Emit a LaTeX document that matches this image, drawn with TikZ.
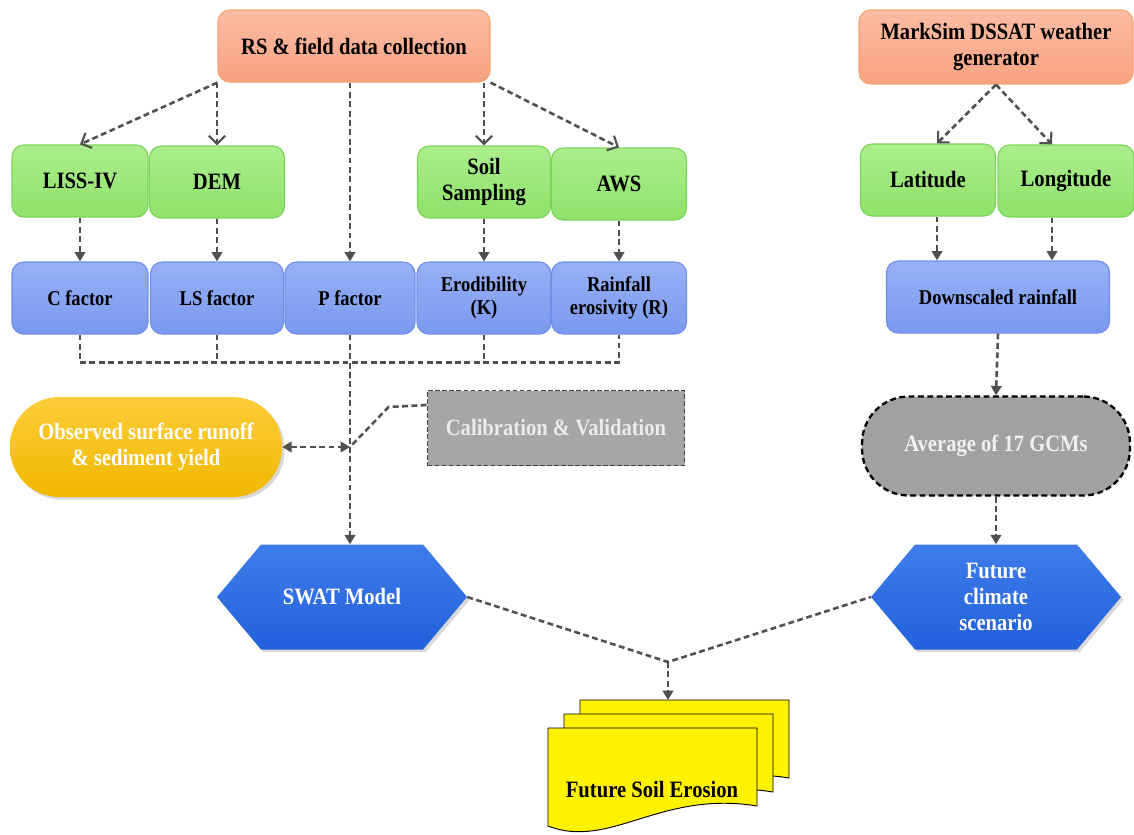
\documentclass[tikz,border=0pt]{standalone}
\usepackage{fontspec}
\setmainfont{Liberation Serif}[FakeStretch=0.88]
\usetikzlibrary{arrows.meta,shapes.symbols,shadows,calc}
\definecolor{orline}{HTML}{F5A370}
\definecolor{ortop}{HTML}{FBBCA3}
\definecolor{orbot}{HTML}{F8A282}
\definecolor{grline}{HTML}{7DD45A}
\definecolor{grtop}{HTML}{ABEE8C}
\definecolor{grbot}{HTML}{8FE16B}
\definecolor{blline}{HTML}{6F8EEA}
\definecolor{bltop}{HTML}{98B1F5}
\definecolor{blbot}{HTML}{7A98EE}
\definecolor{hxtop}{HTML}{3F7CEA}
\definecolor{hxbot}{HTML}{2260DC}
\definecolor{yltop}{HTML}{FDCD3A}
\definecolor{ylbot}{HTML}{F0B800}
\definecolor{arrgray}{HTML}{505050}
\tikzset{
  wd/.style={minimum width=#1*0.03cm},
  ht/.style={minimum height=#1*0.03cm},
  base/.style={font=\bfseries\fontsize{20}{22}\selectfont, align=center, inner sep=2pt},
  srcbox/.style={base, rounded corners=10pt, draw=orline, line width=1pt, top color=ortop, bottom color=orbot},
  inbox/.style={base, rounded corners=10pt, draw=grline, line width=1pt, top color=grtop, bottom color=grbot, ht=72},
  facbox/.style={base, font=\bfseries\fontsize{18}{20}\selectfont, rounded corners=10pt, draw=blline, line width=1pt, top color=bltop, bottom color=blbot, ht=72},
  hexa/.style={base, text=white, shape=signal, signal to=east and west, signal pointer angle=100, top color=hxtop, bottom color=hxbot, wd=250, ht=105, drop shadow={opacity=0.3}},
  arr/.style={draw=arrgray, line width=2.2pt, dash pattern=on 5pt off 3pt, -{Triangle[length=8pt,width=9pt]}},
  openarr/.style={-{Straight Barb[length=7pt,width=14pt,line width=1.8pt]}},
  sheet/.style={draw=black, line width=0.8pt, fill=yellow}
}
\begin{document}
\begin{tikzpicture}[x=0.03cm,y=-0.03cm]
\useasboundingbox (0,0) rectangle (1134,835);
% sources
\node[srcbox, wd=272, ht=72] (rs) at (354,46) {RS \& field data collection};
\node[srcbox, wd=274, ht=74] (msim) at (996,47) {MarkSim DSSAT weather\\generator};
% inputs
\foreach \n/\x/\y/\w/\t in {liss/80/181/136/LISS-IV, dem/217/182/135/DEM,
    soil/484/182/133/{Soil\\Sampling}, aws/619/184/135/AWS,
    lat/928/180/135/Latitude, lon/1066/181/136/Longitude}
  \node[inbox, wd=\w] (\n) at (\x,\y) {\t};
% factors
\foreach \n/\x/\y/\w/\t in {cfac/80/298/136/C factor, lsfac/217/298/133/LS factor,
    pfac/350/298/130/P factor, erod/484/298/134/{Erodibility\\(K)},
    rfac/619/298/135/{Rainfall\\erosivity (R)}, down/998/297/223/Downscaled rainfall}
  \node[facbox, wd=\w] (\n) at (\x,\y) {\t};
% calibration, observed, GCMs
\node[base, text=white, wd=272, ht=100, rounded corners=42pt, top color=yltop, bottom color=ylbot,
  drop shadow={opacity=0.3}] (obs) at (146,447) {Observed surface runoff\\\& sediment yield};
\node[base, text=white!92!black, wd=257, ht=75, fill=black!35, draw=black!75, line width=1.5pt,
  dash pattern=on 4pt off 2pt] (calib) at (556,428) {Calibration \& Validation};
\node[base, text=white!94!black, wd=268, ht=99, rounded corners=40pt, fill=black!37, draw=black,
  line width=2pt, dash pattern=on 5pt off 3pt] (gcm) at (996,446) {Average of 17 GCMs};
% models
\node[hexa] (swat) at (342,597) {SWAT Model};
\node[hexa] (fut) at (996,597) {Future\\climate\\scenario};
% output
\foreach \dx/\dy in {32/-28,16/-14,0/0}
  \draw[sheet] (548+\dx,728+\dy) -- (757+\dx,728+\dy) -- (757+\dx,806+\dy)
    .. controls (660+\dx,790+\dy) and (610+\dx,850+\dy) .. (548+\dx,826+\dy) -- cycle;
\node[base] (ero) at (652,790) {Future Soil Erosion};
\coordinate (erotop) at (668,700);
\coordinate (jn) at (668,662);
% connectors
\draw[arr, openarr] (rs.south west) -- (liss.north);
\draw[arr, openarr] (dem.north |- rs.south) -- (dem.north);
\draw[arr] (pfac.north |- rs.south) -- (pfac.north);
\draw[arr, openarr] (soil.north |- rs.south) -- (soil.north);
\draw[arr, openarr] (rs.south east) -- (aws.north);
\foreach \a/\b in {liss/cfac, dem/lsfac, soil/erod, aws/rfac}
  \draw[arr] (\a.south) -- (\b.north);
\draw[arr, openarr] (msim.south) -- ($(lat.north)+(9,0)$);
\draw[arr, openarr] (msim.south) -- ($(lon.north)+(-14,0)$);
\draw[arr] ($(lat.south)+(9,0)$) coordinate (la) -- (la |- down.north);
\draw[arr] ($(lon.south)+(-14,0)$) coordinate (lo) -- (lo |- down.north);
\path (cfac.south) ++(0,28) coordinate (brk);
\draw[arr, -] (cfac.south) -- (brk) -| (rfac.south);
\foreach \n in {lsfac, erod}
  \draw[arr, -] (\n.south) -- (\n.south |- brk);
\coordinate (pj) at (pfac.south |- obs.east);
\draw[arr] (pfac.south) -- (pfac.south |- swat.north);
\draw[arr, {Triangle[length=8pt,width=9pt]}-{Triangle[length=8pt,width=9pt]}] (obs.east) -- (pj);
\draw[arr, -] ([yshift=0.69cm]calib.west) -- ++(-38,2) -- (pj);
\draw[arr] (down.south) -- (gcm.north);
\draw[arr] (gcm.south) -- (fut.north);
\draw[arr, -] (swat.east) -- (jn) -- (fut.west);
\draw[arr] (jn) -- (erotop);
\end{tikzpicture}
\end{document}
